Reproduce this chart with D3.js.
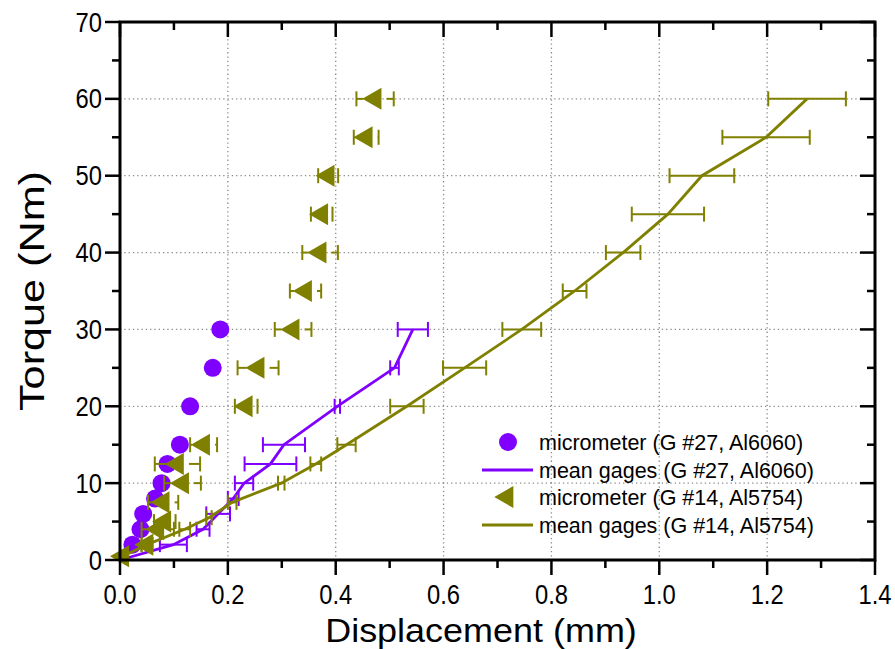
<!DOCTYPE html>
<html><head><meta charset="utf-8">
<script src="https://cdn.jsdelivr.net/npm/d3@7"></script>
<style>body{margin:0;background:#fff}</style>
</head><body><svg id="c" width="895" height="649"></svg>
<script>
// ---- data ----
const xTickValues = [0, 0.2, 0.4, 0.6, 0.8, 1.0, 1.2, 1.4];
const yTickValues = [0, 10, 20, 30, 40, 50, 60, 70];

// micrometer (G #27, Al6060)
const microA_T = [2, 4, 6, 8, 10, 12.5, 15, 20, 25, 30];
const microA_X = [0.023, 0.038, 0.043, 0.065, 0.077, 0.088, 0.111, 0.130, 0.172, 0.186];

// mean gages (G #27, Al6060)
const gageA_T = [0, 2, 4, 6, 8, 10, 12.5, 15, 20, 25, 30];
const gageA_X = [0.0, 0.099, 0.154, 0.182, 0.21, 0.230, 0.279, 0.304, 0.403, 0.509, 0.543];
const gageA_E = [0, 0.025, 0.012, 0.022, 0.01, 0.017, 0.048, 0.039, 0.005, 0.008, 0.028];

// micrometer (G #14, Al5754)
const microB_T = [0.5, 2, 4, 5, 7.5, 10, 12.5, 15, 20, 25, 30, 35, 40, 45, 50, 55, 60];
const microB_X = [0.005, 0.05, 0.07, 0.083, 0.08, 0.116, 0.1065, 0.155, 0.234, 0.256, 0.321, 0.344, 0.371, 0.374, 0.386, 0.4565, 0.473];
const microB_E = [0.0, 0.01, 0.03, 0.02, 0.028, 0.034, 0.042, 0.025, 0.021, 0.038, 0.034, 0.029, 0.033, 0.020, 0.0185, 0.023, 0.0346];

// mean gages (G #14, Al5754)
const gageB_T = [0.5, 2, 4, 5.5, 7.5, 10, 12.5, 15, 20, 25, 30, 35, 40, 45, 50, 55, 60];
const gageB_X = [0.005, 0.05, 0.12, 0.165, 0.208, 0.299, 0.363, 0.42, 0.532, 0.639, 0.745, 0.843, 0.933, 1.016, 1.079, 1.198, 1.274];
const gageB_E = [0, 0.01, 0.01, 0.005, 0.008, 0.006, 0.010, 0.017, 0.031, 0.040, 0.036, 0.022, 0.032, 0.067, 0.060, 0.081, 0.072];

const legendLabels = ["micrometer (G #27, Al6060)", "mean gages (G #27, Al6060)", "micrometer (G #14, Al5754)", "mean gages (G #14, Al5754)"];

const purple = "#8000FF", olive = "#808000";

// ---- layout ----
const L = 120, R = 875, T = 22, B = 560;
const svg = d3.select("#c");
const x = d3.scaleLinear().domain([0, 1.4]).range([L, R]);
const y = d3.scaleLinear().domain([0, 70]).range([B, T]);
const font = "'Liberation Sans', Arial, sans-serif";

// grid
const grid = svg.append("g");
grid.selectAll(".gx").data(xTickValues.filter(v => v > 0 && v < 1.4)).enter().append("line")
  .attr("x1", d => x(d)).attr("x2", d => x(d)).attr("y1", T).attr("y2", B)
  .attr("stroke", "#8a8a8a").attr("stroke-width", 1.3).attr("stroke-dasharray", "1.3,3");
grid.selectAll(".gy").data(yTickValues.filter(v => v > 0 && v < 70)).enter().append("line")
  .attr("y1", d => y(d)).attr("y2", d => y(d)).attr("x1", L).attr("x2", R)
  .attr("stroke", "#8a8a8a").attr("stroke-width", 1.3).attr("stroke-dasharray", "1.3,3");

const zip = (ts, xs, es) => ts.map((t, i) => ({t, x: xs[i], e: es ? es[i] : 0}));
const dA = zip(microA_T, microA_X);
const gA = zip(gageA_T, gageA_X, gageA_E);
const dB = zip(microB_T, microB_X, microB_E);
const gB = zip(gageB_T, gageB_X, gageB_E);

const line = d3.line().x(d => x(d.x)).y(d => y(d.t));
const capH = 7.5;

function errBars(g, data, color, gap) {
  data.forEach(d => {
    if (d.e <= 0) return;
    const cx = x(d.x), cy = y(d.t), x0 = x(d.x - d.e), x1 = x(d.x + d.e);
    const segs = gap > 0 ? [[x0, cx - gap], [cx + gap, x1]] : [[x0, x1]];
    segs.forEach(([a, b]) => {
      if (b > a) g.append("line").attr("x1", a).attr("x2", b).attr("y1", cy).attr("y2", cy)
        .attr("stroke", color).attr("stroke-width", 2);
    });
    [x0, x1].forEach(xx => g.append("line").attr("x1", xx).attr("x2", xx)
      .attr("y1", cy - capH).attr("y2", cy + capH).attr("stroke", color).attr("stroke-width", 2));
  });
}

// purple micrometer circles
svg.append("g").selectAll("circle").data(dA).enter().append("circle")
  .attr("cx", d => x(d.x)).attr("cy", d => y(d.t)).attr("r", 9).attr("fill", purple);

// purple mean gages
const gAg = svg.append("g");
gAg.append("path").attr("d", line(gA)).attr("fill", "none").attr("stroke", purple).attr("stroke-width", 2.8);
errBars(gAg, gA, purple, 0);

// olive micrometer triangles
const tri = d3.symbol().type(d3.symbolTriangle).size(210);
const dBg = svg.append("g");
errBars(dBg, dB, olive, 11.5);
dBg.selectAll("path.m").data(dB).enter().append("path")
  .attr("d", tri).attr("fill", olive)
  .attr("transform", d => `translate(${x(d.x)},${y(d.t)}) rotate(-90)`);

// olive mean gages
const gBg = svg.append("g");
gBg.append("path").attr("d", line(gB)).attr("fill", "none").attr("stroke", olive).attr("stroke-width", 2.8);
errBars(gBg, gB, olive, 0);

// axes
const ax = svg.append("g");
const minorX = d3.range(0, 1.41, 0.1), minorY = d3.range(0, 71, 5);
const isMajX = v => Math.abs(v * 5 - Math.round(v * 5)) < 1e-6;
const isMajY = v => v % 10 === 0;
minorX.forEach(v => {
  const len = isMajX(v) ? 15 : 8;
  ax.append("line").attr("x1", x(v)).attr("x2", x(v)).attr("y1", B).attr("y2", B + len).attr("stroke", "#000").attr("stroke-width", 2.5);
  ax.append("line").attr("x1", x(v)).attr("x2", x(v)).attr("y1", T).attr("y2", T + len).attr("stroke", "#000").attr("stroke-width", 2.5);
});
minorY.forEach(v => {
  const len = isMajY(v) ? 15 : 8;
  ax.append("line").attr("y1", y(v)).attr("y2", y(v)).attr("x1", L).attr("x2", L - len).attr("stroke", "#000").attr("stroke-width", 2.5);
  ax.append("line").attr("y1", y(v)).attr("y2", y(v)).attr("x1", R).attr("x2", R - len).attr("stroke", "#000").attr("stroke-width", 2.5);
});
ax.append("rect").attr("x", L).attr("y", T).attr("width", R - L).attr("height", B - T)
  .attr("fill", "none").attr("stroke", "#000").attr("stroke-width", 3);

ax.selectAll("text.xt").data(xTickValues).enter().append("text")
  .attr("transform", d => `translate(${x(d)},604) scale(0.95,1.1)`).attr("text-anchor", "middle")
  .attr("font-family", font).attr("font-size", 25).text(d => d3.format(".1f")(d));
ax.selectAll("text.yt").data(yTickValues).enter().append("text")
  .attr("transform", d => `translate(102,${y(d) + 9.5}) scale(0.95,1.1)`).attr("text-anchor", "end")
  .attr("font-family", font).attr("font-size", 25).text(d => d);

svg.append("text").attr("transform", "translate(481,641.5) scale(1.09,1)").attr("text-anchor", "middle")
  .attr("font-family", font).attr("font-size", 33).text("Displacement (mm)");
svg.append("text").attr("transform", "translate(44,291) rotate(-90) scale(1.2,1)").attr("text-anchor", "middle")
  .attr("font-family", font).attr("font-size", 36).text("Torque (Nm)");

// legend
const lg = svg.append("g");
const rows = [442, 470, 497, 525];
lg.append("circle").attr("cx", 508).attr("cy", rows[0]).attr("r", 9).attr("fill", purple);
lg.append("line").attr("x1", 482).attr("x2", 533).attr("y1", rows[1]).attr("y2", rows[1]).attr("stroke", purple).attr("stroke-width", 2.8);
lg.append("path").attr("d", tri).attr("fill", olive).attr("transform", `translate(507,${rows[2]}) rotate(-90)`);
lg.append("line").attr("x1", 482).attr("x2", 533).attr("y1", rows[3]).attr("y2", rows[3]).attr("stroke", olive).attr("stroke-width", 2.8);
legendLabels.forEach((s, i) => lg.append("text").attr("x", 539).attr("y", rows[i] + 8)
  .attr("font-family", font).attr("font-size", 21.5).text(s));
</script></body></html>
